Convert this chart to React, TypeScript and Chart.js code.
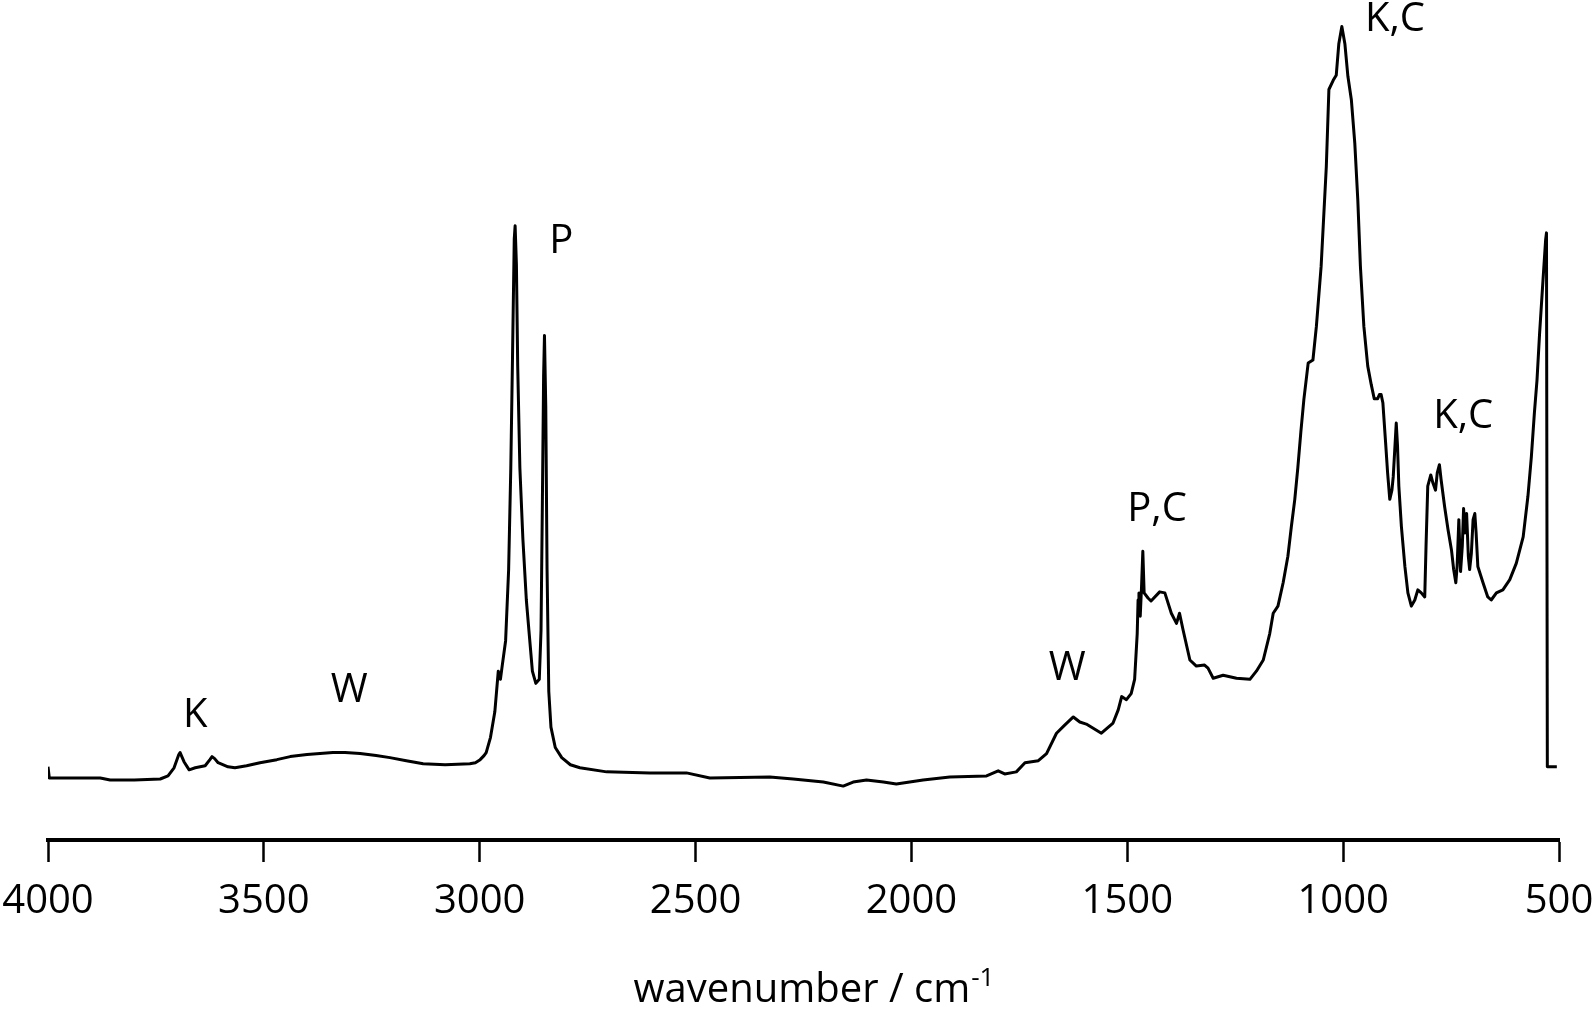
import React, { useEffect, useRef } from "react";
import { Chart, registerables } from "chart.js";

Chart.register(...registerables);

// wavenumbers (cm-1) and absorbance (arbitrary units)
const wavenumbers: number[] = [
  4000, 3997, 3950, 3879, 3856, 3800, 3740, 3722, 3708, 3697, 3694, 3690, 3685, 3673, 3659, 3636, 3625, 3620, 3614, 3606,
  3583, 3567, 3540, 3509, 3470, 3439, 3400, 3370, 3340, 3312, 3277, 3240, 3208, 3170, 3131, 3080, 3023, 3010, 2999, 2990,
  2985, 2975, 2965, 2957, 2952, 2948, 2940, 2933, 2928, 2924, 2920, 2918, 2915, 2912, 2907, 2900, 2892, 2885, 2878, 2870,
  2862, 2858, 2855, 2852, 2850, 2847, 2844, 2840, 2835, 2825, 2810, 2790, 2768, 2706, 2606, 2521, 2467, 2328, 2274, 2204,
  2158, 2135, 2104, 2065, 2035, 2004, 1973, 1911, 1826, 1799, 1784, 1757, 1737, 1706, 1687, 1664, 1645, 1625, 1610, 1595,
  1560, 1533, 1521, 1513, 1502, 1491, 1483, 1477, 1475, 1473, 1470, 1467, 1464, 1461, 1452, 1445, 1425, 1413, 1398, 1386,
  1379, 1371, 1355, 1340, 1321, 1313, 1301, 1278, 1247, 1216, 1201, 1185, 1170, 1162, 1151, 1139, 1128, 1120, 1112, 1105,
  1098, 1091, 1081, 1070, 1062, 1051, 1039, 1033, 1023, 1016, 1010, 1003, 996, 989, 981, 973, 966, 960, 952, 943,
  935, 928, 920, 916, 912, 908, 902, 897, 892, 887, 884, 880, 877, 874, 871, 865, 857, 850, 842, 834,
  827, 819, 811, 808, 804, 797, 792, 786, 782, 777, 773, 765, 757, 749, 744, 739, 736, 732, 728, 724,
  721, 718, 714, 710, 707, 703, 699, 695, 692, 688, 676, 665, 657, 645, 630, 614, 599, 583, 572, 564,
  557, 551, 545, 537, 531, 529, 527, 505,
];

const absorbance: number[] = [
  0.072, 0.061, 0.061, 0.061, 0.059, 0.059, 0.060, 0.063, 0.071, 0.084, 0.086, 0.082, 0.077, 0.069, 0.071, 0.073, 0.079, 0.082, 0.080, 0.076,
  0.072, 0.071, 0.073, 0.076, 0.079, 0.082, 0.084, 0.085, 0.086, 0.086, 0.085, 0.083, 0.081, 0.078, 0.075, 0.074, 0.075, 0.076, 0.079, 0.083,
  0.086, 0.101, 0.126, 0.166, 0.158, 0.171, 0.196, 0.266, 0.366, 0.476, 0.591, 0.604, 0.566, 0.466, 0.366, 0.296, 0.236, 0.201, 0.166, 0.154,
  0.158, 0.206, 0.326, 0.456, 0.496, 0.426, 0.266, 0.146, 0.111, 0.091, 0.081, 0.074, 0.071, 0.067, 0.066, 0.066, 0.061, 0.062, 0.060, 0.057,
  0.053, 0.057, 0.059, 0.057, 0.055, 0.057, 0.059, 0.062, 0.063, 0.068, 0.065, 0.067, 0.076, 0.078, 0.085, 0.105, 0.113, 0.121, 0.116, 0.114,
  0.105, 0.115, 0.128, 0.141, 0.138, 0.144, 0.158, 0.203, 0.236, 0.243, 0.220, 0.249, 0.284, 0.243, 0.238, 0.235, 0.244, 0.243, 0.223, 0.213,
  0.223, 0.207, 0.177, 0.171, 0.172, 0.169, 0.159, 0.162, 0.159, 0.158, 0.166, 0.177, 0.203, 0.223, 0.230, 0.253, 0.279, 0.308, 0.335, 0.366,
  0.401, 0.433, 0.469, 0.472, 0.505, 0.564, 0.662, 0.738, 0.747, 0.752, 0.783, 0.800, 0.783, 0.751, 0.728, 0.685, 0.629, 0.564, 0.505, 0.466,
  0.448, 0.434, 0.434, 0.438, 0.438, 0.430, 0.393, 0.361, 0.335, 0.344, 0.357, 0.387, 0.410, 0.387, 0.348, 0.308, 0.269, 0.243, 0.230, 0.236,
  0.246, 0.243, 0.239, 0.289, 0.348, 0.359, 0.351, 0.344, 0.361, 0.369, 0.354, 0.328, 0.305, 0.285, 0.266, 0.253, 0.269, 0.315, 0.264, 0.289,
  0.326, 0.302, 0.321, 0.279, 0.266, 0.282, 0.315, 0.321, 0.302, 0.269, 0.253, 0.239, 0.236, 0.243, 0.246, 0.256, 0.272, 0.298, 0.338, 0.377,
  0.420, 0.452, 0.498, 0.551, 0.590, 0.597, 0.072, 0.072,
];

// x-axis ticks
const xTickValues: number[] = [4000, 3500, 3000, 2500, 2000, 1500, 1000, 500];

// band annotations: text, wavenumber, absorbance (baseline of the text)
const bandLabels: string[] = ["K", "W", "P", "W", "P,C", "K,C", "K,C"];
const bandWn: number[] = [3659, 3302, 2811, 1639, 1431, 880, 722];
const bandA: number[] = [0.111, 0.136, 0.577, 0.157, 0.314, 0.796, 0.405];

const xTitleMain = "wavenumber / cm";
const xTitleSup = "-1";

const FONT = "'Open Sans', 'Noto Sans', sans-serif";
const FONT_SIZE = 40;

export default function App() {
  const canvasRef = useRef<HTMLCanvasElement | null>(null);

  useEffect(() => {
    if (!canvasRef.current) return;
    const points = wavenumbers.map((w, i) => ({ x: w, y: absorbance[i] }));

    const labelPlugin = {
      id: "bandLabels",
      afterDatasetsDraw(chart: any) {
        const ctx = chart.ctx;
        const xs = chart.scales.x;
        const ys = chart.scales.y;
        ctx.save();
        ctx.fillStyle = "#000";
        ctx.font = `${FONT_SIZE}px ${FONT}`;
        ctx.textAlign = "center";
        ctx.textBaseline = "alphabetic";
        bandLabels.forEach((t, i) => {
          ctx.fillText(t, xs.getPixelForValue(bandWn[i]), ys.getPixelForValue(bandA[i]));
        });
        // axis title with superscript
        const ca = chart.chartArea;
        const cx = (ca.left + ca.right) / 2 + 10;
        const baseY = ca.bottom + 162;
        ctx.font = `${FONT_SIZE}px ${FONT}`;
        const w1 = ctx.measureText(xTitleMain).width;
        ctx.font = `26px ${FONT}`;
        const w2 = ctx.measureText(xTitleSup).width;
        const start = cx - (w1 + w2) / 2;
        ctx.textAlign = "left";
        ctx.font = `${FONT_SIZE}px ${FONT}`;
        ctx.fillText(xTitleMain, start, baseY);
        ctx.font = `26px ${FONT}`;
        ctx.fillText(xTitleSup, start + w1 + 1, baseY - 16);
        ctx.restore();
      },
    };

    const chart = new Chart(canvasRef.current, {
      type: "line",
      data: {
        datasets: [
          {
            data: points,
            borderColor: "#000",
            borderWidth: 3,
            pointRadius: 0,
            tension: 0,
            borderJoinStyle: "round",
            fill: false,
          },
        ],
      },
      options: {
        animation: false,
        responsive: false,
        devicePixelRatio: 1,
        layout: { padding: { left: 48, right: 36, top: 0, bottom: 0 } },
        plugins: { legend: { display: false }, tooltip: { enabled: false }, title: { display: false } },
        scales: {
          x: {
            type: "linear",
            reverse: true,
            min: 500,
            max: 4000,
            afterBuildTicks: (scale: any) => {
              scale.ticks = xTickValues.map((v) => ({ value: v }));
            },
            afterFit: (scale: any) => {
              scale.height = 175;
              scale.paddingLeft = 0;
              scale.paddingRight = 0;
            },
            border: { display: true, color: "#000", width: 4 },
            grid: {
              display: true,
              drawOnChartArea: false,
              drawTicks: true,
              tickLength: 22,
              tickWidth: 2.5,
              tickColor: "#000",
              color: "#000",
            },
            ticks: {
              color: "#000",
              font: { family: FONT, size: FONT_SIZE },
              padding: 16,
              maxRotation: 0,
              autoSkip: false,
              callback: (v: any) => String(v),
            },
          },
          y: {
            display: false,
            min: 0,
            max: 0.826,
          },
        },
      },
      plugins: [labelPlugin],
    } as any);
    return () => chart.destroy();
  }, []);

  return (
    <div style={{ position: "absolute", left: 0, top: 0, width: 1595, height: 1015, background: "#fff" }}>
      <canvas ref={canvasRef} width={1595} height={1015} />
    </div>
  );
}
